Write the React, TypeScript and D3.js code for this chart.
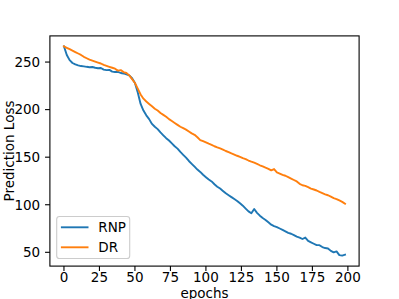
import React from "react";
import * as d3 from "d3";

const epochs: number[] = Array.from({ length: 100 }, (_, i) => i * 2);

const rnp: number[] = [
  266.5, 257.5, 252, 249, 247.5, 246.5, 245.8, 245.5, 245, 244.6,
  244.8, 244, 243.5, 243.8, 242, 241.5, 241.8, 240, 239.5, 239.8,
  238.5, 238, 237, 236, 233, 228, 218, 206, 199, 194,
  190, 185, 182, 179.5, 176, 173, 170, 167.5, 164.5, 161.5,
  159, 155.5, 152.5, 149.5, 146, 143, 140, 137, 134.5, 131.5,
  129, 126.5, 124.5, 121.5, 119, 117, 114.5, 112, 110, 108,
  106, 104, 101.5, 99, 96, 93, 91, 95.5, 91.5, 88.5,
  86, 84, 81.5, 79, 77.5, 76.5, 75, 73.5, 72, 70.5,
  69.5, 68, 66.5, 65.5, 64, 65.5, 62, 60.5, 59, 57.5,
  57.5, 55.5, 54.5, 54, 51.5, 50, 51, 47, 46.5, 47.5,
];

const dr: number[] = [
  266.5, 265, 263.5, 262, 260.5, 259, 257.5, 255.5, 254, 252.5,
  251.5, 250.5, 249.5, 248.5, 247, 246, 245, 244, 243, 241,
  241.5, 239.5, 238.5, 236, 232, 228, 222, 216, 211.5, 208.5,
  206, 203.5, 201, 199, 196.5, 194.5, 192.5, 190, 188, 186,
  184, 182, 180.5, 179, 177, 175, 173.5, 171, 168, 166.8,
  165.5, 164.2, 163, 161.5, 160.3, 159.2, 158, 156.5, 155.3, 154,
  152.8, 151.5, 150.3, 149, 148, 146.5, 145.3, 144.2, 143, 141.5,
  140.3, 139, 137.8, 136.2, 137.5, 134, 132.8, 131.5, 130.5, 129,
  127.5, 126, 124.5, 122, 120.5, 119.8, 118.5, 117, 116, 115,
  113.5, 112.3, 111, 110, 108.5, 107, 106, 104.5, 103, 101,
];

const xTicks: number[] = [0, 25, 50, 75, 100, 125, 150, 175, 200];
const yTicks: number[] = [50, 100, 150, 200, 250];
const seriesNames: string[] = ["RNP", "DR"];
const colors: string[] = ["#1f77b4", "#ff7f0e"];

const W = 399;
const H = 299;
const L = 49.9, R = 359.1, T = 35.9, B = 266.1;
const FONT = "DejaVu Sans, sans-serif";
const FS = 13.5;

export default function App() {
  const allY = [...rnp, ...dr];
  const xMin = d3.min(epochs)!, xMax = d3.max(epochs)!;
  const yMin = d3.min(allY)!, yMax = d3.max(allY)!;
  const xPad = (xMax - xMin) * 0.05;
  const yPad = (yMax - yMin) * 0.05;
  const x = d3.scaleLinear().domain([xMin - xPad, xMax + xPad]).range([L, R]);
  const y = d3.scaleLinear().domain([yMin - yPad, yMax + yPad]).range([B, T]);

  const line = d3
    .line<number>()
    .x((_, i) => x(epochs[i]))
    .y((d) => y(d));

  const series = [rnp, dr];
  const tickLen = 4.86;

  return (
    <svg
      width={W}
      height={H}
      style={{ position: "absolute", left: 0, top: 0, background: "#fff" }}
      fontFamily={FONT}
    >
      <rect x={0} y={0} width={W} height={H} fill="#fff" />
      {series.map((s, k) => (
        <path
          key={k}
          d={line(s) || ""}
          fill="none"
          stroke={colors[k]}
          strokeWidth={1.9}
          strokeLinejoin="round"
          strokeLinecap="square"
        />
      ))}
      {/* spines */}
      <rect x={L} y={T} width={R - L} height={B - T} fill="none" stroke="#000" strokeWidth={1.1} />
      {/* x ticks */}
      {xTicks.map((t) => (
        <g key={"x" + t}>
          <line x1={x(t)} x2={x(t)} y1={B} y2={B + tickLen} stroke="#000" strokeWidth={1.1} />
          <text x={x(t)} y={281.8} fontSize={FS} textAnchor="middle" fill="#000">
            {t}
          </text>
        </g>
      ))}
      {/* y ticks */}
      {yTicks.map((t) => (
        <g key={"y" + t}>
          <line x1={L - tickLen} x2={L} y1={y(t)} y2={y(t)} stroke="#000" strokeWidth={1.1} />
          <text x={L - tickLen - 4.86} y={y(t)} dy="0.36em" fontSize={FS} textAnchor="end" fill="#000">
            {t}
          </text>
        </g>
      ))}
      {/* axis labels */}
      <text x={(L + R) / 2} y={297.5} fontSize={FS} textAnchor="middle" fill="#000">
        epochs
      </text>
      <text
        transform={`translate(14,${(T + B) / 2}) rotate(-90)`}
        fontSize={FS}
        textAnchor="middle"
        fill="#000"
      >
        Prediction Loss
      </text>
      {/* legend */}
      <g>
        <rect
          x={56.7}
          y={216.5}
          width={73}
          height={42}
          rx={2.8}
          fill="#fff"
          fillOpacity={0.8}
          stroke="#cccccc"
          strokeWidth={1.1}
        />
        {seriesNames.map((n, k) => (
          <g key={n}>
            <line
              x1={60.9}
              x2={88.5}
              y1={227.3 + k * 20}
              y2={227.3 + k * 20}
              stroke={colors[k]}
              strokeWidth={1.9}
            />
            <text x={98.3} y={227.3 + k * 20} dy="0.36em" fontSize={FS} fill="#000">
              {n}
            </text>
          </g>
        ))}
      </g>
    </svg>
  );
}
